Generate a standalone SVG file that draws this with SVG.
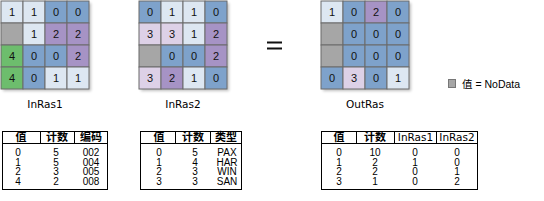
<svg xmlns="http://www.w3.org/2000/svg" width="544" height="201" viewBox="0 0 544 201">
<defs>
<filter id="sh" x="-10%" y="-10%" width="130%" height="130%"><feGaussianBlur stdDeviation="1.5"/></filter>
</defs>
<style>
.lb{fill:#dde7f2}.bl{fill:#7ea2cb}.pu{fill:#a693c5}.lp{fill:#ddd1e7}.gr{fill:#6dbd6d}.nd{fill:#a6a6a6}
.cells rect{stroke:#6b6b6b;stroke-width:1}
.v{font-family:"Liberation Sans",Arial,sans-serif;font-size:11px;fill:#111;text-anchor:middle}
.lab{font-family:"DejaVu Sans",Verdana,sans-serif;font-size:10.5px;fill:#000;text-anchor:middle}
.t{fill:none;stroke:#000;stroke-width:1}
.h{font-family:"Liberation Sans","Noto Sans CJK SC",sans-serif;font-size:11px;font-weight:bold;fill:#000;text-anchor:middle}
.h2{font-family:"DejaVu Sans",Verdana,sans-serif;font-size:10.5px;fill:#000;text-anchor:middle}
.d{font-family:"Liberation Sans",Arial,sans-serif;font-size:10px;fill:#000;text-anchor:middle}
.shadow{fill:#000;opacity:0.25;filter:url(#sh)}
</style>

<g id="InRas1">
<rect class="shadow" x="3" y="3" width="88" height="88"/>
<g class="cells">
<rect class="lb" x="1" y="1" width="22" height="22"/><rect class="lb" x="23" y="1" width="22" height="22"/><rect class="bl" x="45" y="1" width="22" height="22"/><rect class="bl" x="67" y="1" width="22" height="22"/>
<rect class="nd" x="1" y="23" width="22" height="22"/><rect class="lb" x="23" y="23" width="22" height="22"/><rect class="pu" x="45" y="23" width="22" height="22"/><rect class="pu" x="67" y="23" width="22" height="22"/>
<rect class="gr" x="1" y="45" width="22" height="22"/><rect class="bl" x="23" y="45" width="22" height="22"/><rect class="bl" x="45" y="45" width="22" height="22"/><rect class="pu" x="67" y="45" width="22" height="22"/>
<rect class="gr" x="1" y="67" width="22" height="22"/><rect class="bl" x="23" y="67" width="22" height="22"/><rect class="lb" x="45" y="67" width="22" height="22"/><rect class="lb" x="67" y="67" width="22" height="22"/>
</g>
<text class="v" x="12" y="16">1</text><text class="v" x="34" y="16">1</text><text class="v" x="56" y="16">0</text><text class="v" x="78" y="16">0</text>
<text class="v" x="34" y="38">1</text><text class="v" x="56" y="38">2</text><text class="v" x="78" y="38">2</text>
<text class="v" x="12" y="60">4</text><text class="v" x="34" y="60">0</text><text class="v" x="56" y="60">0</text><text class="v" x="78" y="60">2</text>
<text class="v" x="12" y="82">4</text><text class="v" x="34" y="82">0</text><text class="v" x="56" y="82">1</text><text class="v" x="78" y="82">1</text>
<text class="lab" x="45" y="108">InRas1</text>
</g>

<g id="InRas2">
<rect class="shadow" x="141" y="3" width="88" height="88"/>
<g class="cells">
<rect class="bl" x="139" y="1" width="22" height="22"/><rect class="lb" x="161" y="1" width="22" height="22"/><rect class="lb" x="183" y="1" width="22" height="22"/><rect class="bl" x="205" y="1" width="22" height="22"/>
<rect class="lp" x="139" y="23" width="22" height="22"/><rect class="lp" x="161" y="23" width="22" height="22"/><rect class="lb" x="183" y="23" width="22" height="22"/><rect class="pu" x="205" y="23" width="22" height="22"/>
<rect class="nd" x="139" y="45" width="22" height="22"/><rect class="bl" x="161" y="45" width="22" height="22"/><rect class="bl" x="183" y="45" width="22" height="22"/><rect class="pu" x="205" y="45" width="22" height="22"/>
<rect class="lp" x="139" y="67" width="22" height="22"/><rect class="pu" x="161" y="67" width="22" height="22"/><rect class="lb" x="183" y="67" width="22" height="22"/><rect class="bl" x="205" y="67" width="22" height="22"/>
</g>
<text class="v" x="150" y="16">0</text><text class="v" x="172" y="16">1</text><text class="v" x="194" y="16">1</text><text class="v" x="216" y="16">0</text>
<text class="v" x="150" y="38">3</text><text class="v" x="172" y="38">3</text><text class="v" x="194" y="38">1</text><text class="v" x="216" y="38">2</text>
<text class="v" x="172" y="60">0</text><text class="v" x="194" y="60">0</text><text class="v" x="216" y="60">2</text>
<text class="v" x="150" y="82">3</text><text class="v" x="172" y="82">2</text><text class="v" x="194" y="82">1</text><text class="v" x="216" y="82">0</text>
<text class="lab" x="183" y="108">InRas2</text>
</g>

<g id="equals">
<rect x="267" y="41.5" width="15" height="2" fill="#111"/>
<rect x="267" y="47.5" width="15" height="2" fill="#111"/>
</g>

<g id="OutRas">
<rect class="shadow" x="323" y="3" width="88" height="88"/>
<g class="cells">
<rect class="lb" x="321" y="1" width="22" height="22"/><rect class="bl" x="343" y="1" width="22" height="22"/><rect class="pu" x="365" y="1" width="22" height="22"/><rect class="bl" x="387" y="1" width="22" height="22"/>
<rect class="nd" x="321" y="23" width="22" height="22"/><rect class="bl" x="343" y="23" width="22" height="22"/><rect class="bl" x="365" y="23" width="22" height="22"/><rect class="bl" x="387" y="23" width="22" height="22"/>
<rect class="nd" x="321" y="45" width="22" height="22"/><rect class="bl" x="343" y="45" width="22" height="22"/><rect class="bl" x="365" y="45" width="22" height="22"/><rect class="bl" x="387" y="45" width="22" height="22"/>
<rect class="bl" x="321" y="67" width="22" height="22"/><rect class="lp" x="343" y="67" width="22" height="22"/><rect class="bl" x="365" y="67" width="22" height="22"/><rect class="lb" x="387" y="67" width="22" height="22"/>
</g>
<text class="v" x="332" y="16">1</text><text class="v" x="354" y="16">0</text><text class="v" x="376" y="16">2</text><text class="v" x="398" y="16">0</text>
<text class="v" x="354" y="38">0</text><text class="v" x="376" y="38">0</text><text class="v" x="398" y="38">0</text>
<text class="v" x="354" y="60">0</text><text class="v" x="376" y="60">0</text><text class="v" x="398" y="60">0</text>
<text class="v" x="332" y="82">0</text><text class="v" x="354" y="82">3</text><text class="v" x="376" y="82">0</text><text class="v" x="398" y="82">1</text>
<text class="lab" x="365" y="108">OutRas</text>
</g>

<g id="legend">
<rect x="448.5" y="79.5" width="7" height="8" fill="#a6a6a6" stroke="#777" stroke-width="1"/>
<text x="462" y="87.5" font-family="Liberation Sans,'Noto Sans CJK SC',sans-serif" font-size="10.5" fill="#000">值 = NoData</text>
</g>

<g id="table1">
<rect class="t" x="2.5" y="131.5" width="105" height="58"/>
<path class="t" d="M2.5 143.5H107.5M40.5 131.5V143.5M74.5 131.5V143.5"/>
<text class="h" x="21" y="141">值</text><text class="h" x="57" y="141">计数</text><text class="h" x="91" y="141">编码</text>
<text class="d" x="18" y="156">0</text><text class="d" x="56" y="156">5</text><text class="d" x="91" y="156">002</text>
<text class="d" x="18" y="165.6">1</text><text class="d" x="56" y="165.6">5</text><text class="d" x="91" y="165.6">004</text>
<text class="d" x="18" y="175.2">2</text><text class="d" x="56" y="175.2">3</text><text class="d" x="91" y="175.2">005</text>
<text class="d" x="18" y="184.8">4</text><text class="d" x="56" y="184.8">2</text><text class="d" x="91" y="184.8">008</text>
</g>

<g id="table2">
<rect class="t" x="140.5" y="131.5" width="101" height="58"/>
<path class="t" d="M140.5 143.5H241.5M175.5 131.5V143.5M210.5 131.5V143.5"/>
<text class="h" x="159" y="141">值</text><text class="h" x="193" y="141">计数</text><text class="h" x="226" y="141">类型</text>
<text class="d" x="159" y="156">0</text><text class="d" x="195" y="156">5</text><text class="d" x="227" y="156">PAX</text>
<text class="d" x="159" y="165.6">1</text><text class="d" x="195" y="165.6">4</text><text class="d" x="227" y="165.6">HAR</text>
<text class="d" x="159" y="175.2">2</text><text class="d" x="195" y="175.2">3</text><text class="d" x="227" y="175.2">WIN</text>
<text class="d" x="159" y="184.8">3</text><text class="d" x="195" y="184.8">3</text><text class="d" x="227" y="184.8">SAN</text>
</g>

<g id="table3">
<rect class="t" x="321.5" y="131.5" width="156" height="58"/>
<path class="t" d="M321.5 143.5H477.5M356.5 131.5V143.5M394.5 131.5V143.5M436.5 131.5V143.5"/>
<text class="h" x="339" y="141">值</text><text class="h" x="375" y="141">计数</text><text class="h2" x="415.5" y="141">InRas1</text><text class="h2" x="457" y="141">InRas2</text>
<text class="d" x="339" y="156">0</text><text class="d" x="375" y="156">10</text><text class="d" x="415" y="156">0</text><text class="d" x="457" y="156">0</text>
<text class="d" x="339" y="165.6">1</text><text class="d" x="375" y="165.6">2</text><text class="d" x="415" y="165.6">1</text><text class="d" x="457" y="165.6">0</text>
<text class="d" x="339" y="175.2">2</text><text class="d" x="375" y="175.2">2</text><text class="d" x="415" y="175.2">0</text><text class="d" x="457" y="175.2">1</text>
<text class="d" x="339" y="184.8">3</text><text class="d" x="375" y="184.8">1</text><text class="d" x="415" y="184.8">0</text><text class="d" x="457" y="184.8">2</text>
</g>
</svg>
